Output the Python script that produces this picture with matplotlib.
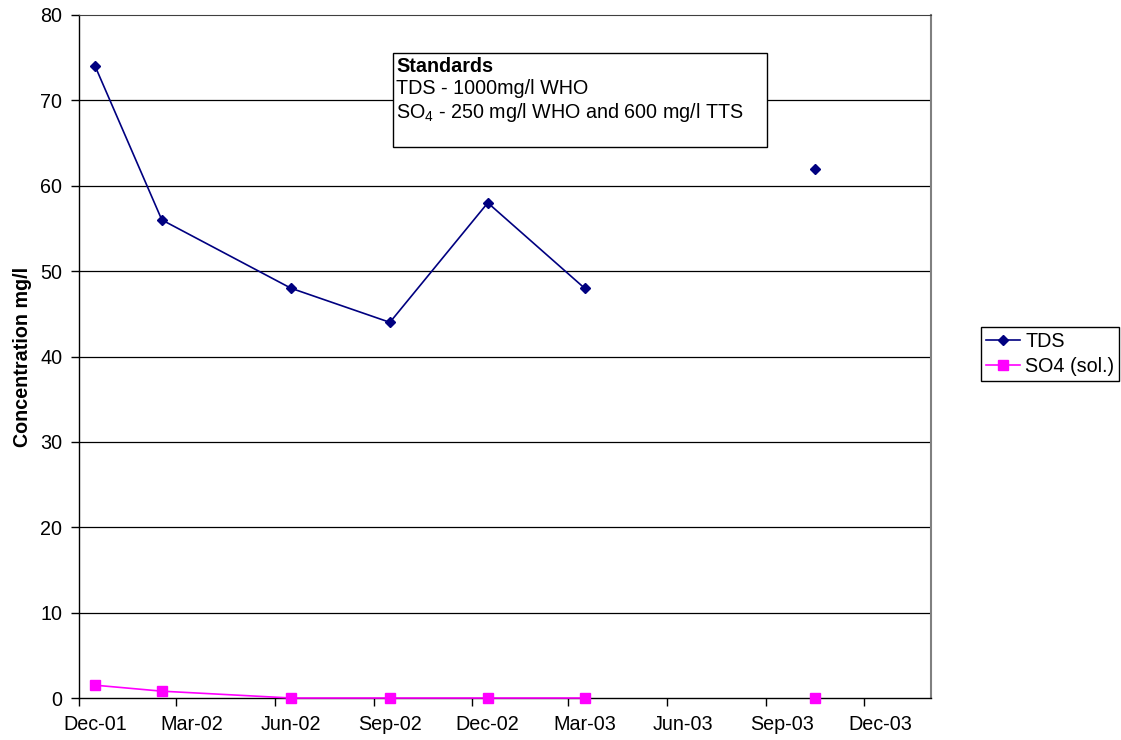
import matplotlib
matplotlib.use("Agg")
import matplotlib.pyplot as plt
import matplotlib.dates as mdates
import matplotlib.patches as patches
from matplotlib.transforms import ScaledTranslation
import numpy as np
import pandas as pd

# sampling dates (one date has no data, so the lines break there)
dates = pd.to_datetime(["2001-12-16", "2002-02-16", "2002-06-16", "2002-09-16",
                        "2002-12-16", "2003-03-16", "2003-06-16", "2003-10-16"])
tds = [74, 56, 48, 44, 58, 48, np.nan, 62]
so4 = [1.5, 0.8, 0, 0, 0, 0, np.nan, 0]

y_ticks = [0, 10, 20, 30, 40, 50, 60, 70, 80]
box_lines = ["TDS - 1000mg/l WHO", r"SO$_{\mathregular{4}}$ - 250 mg/l WHO and 600 mg/l TTS"]

plt.rcParams['font.family'] = ['Liberation Sans', 'DejaVu Sans']
plt.rcParams['mathtext.fontset'] = 'custom'
plt.rcParams['mathtext.rm'] = 'Liberation Sans'

FS = 14.2
W, H = 1121, 740
fig = plt.figure(figsize=(W / 100, H / 100), dpi=100)
ax = fig.add_axes([79 / W, (H - 698) / H, (931 - 79) / W, (698 - 15) / H])

ax.plot(dates, tds, color='#000080', marker='D', markersize=5.5, lw=1.2, label='TDS', zorder=3)
ax.plot(dates, so4, color='#FF00FF', marker='s', markersize=6.5, lw=1.2, label='SO4 (sol.)',
        zorder=3, clip_on=False)

ax.set_ylim(0, 80)
ax.set_yticks(y_ticks)
ax.set_xlim(pd.Timestamp("2001-12-01"), pd.Timestamp("2004-02-01"))
ax.xaxis.set_major_locator(mdates.MonthLocator(bymonth=[3, 6, 9, 12]))
ax.xaxis.set_major_formatter(mdates.DateFormatter('%b-%y'))

for v in y_ticks[1:-1]:
    ax.axhline(v, color='black', lw=0.9, zorder=1)

ax.tick_params(axis='both', labelsize=FS, direction='out', length=6, width=1, color='black')
ax.tick_params(axis='x', pad=6)
ax.tick_params(axis='y', pad=6)
# excel puts the date labels a little to the right of each tick
shift = ScaledTranslation(16 / 100, 0, fig.dpi_scale_trans)
for lab in ax.get_xticklabels():
    lab.set_transform(lab.get_transform() + shift)

ax.set_ylabel('Concentration mg/l', fontsize=FS, fontweight='bold', labelpad=6)

for side in ['left', 'bottom']:
    ax.spines[side].set_color('black')
    ax.spines[side].set_linewidth(1)
ax.spines['top'].set_color('#404040')
ax.spines['right'].set_color('#808080')
ax.spines['right'].set_linewidth(1.5)

# standards text box
rect = patches.Rectangle((393 / W, 1 - 147 / H), (767 - 393) / W, (147 - 53) / H,
                         transform=fig.transFigure, facecolor='white', edgecolor='black',
                         lw=1, zorder=2)
fig.patches.append(rect)
fig.text(396 / W, 1 - 72 / H, "Standards", fontsize=FS, fontweight='bold', va='baseline', zorder=3)
fig.text(396 / W, 1 - 94 / H, box_lines[0], fontsize=FS, va='baseline', zorder=3)
fig.text(396 / W, 1 - 118 / H, box_lines[1], fontsize=FS, va='baseline', zorder=3)

leg = fig.legend(loc='upper left', bbox_to_anchor=(981 / W, 1 - 327 / H), fontsize=FS,
                 frameon=True, fancybox=False, edgecolor='black', framealpha=1,
                 handlelength=1.75, handletextpad=0.25, borderpad=0.25, labelspacing=0.3,
                 borderaxespad=0)
leg.get_frame().set_linewidth(1)

fig.savefig('out.png', dpi=100)
